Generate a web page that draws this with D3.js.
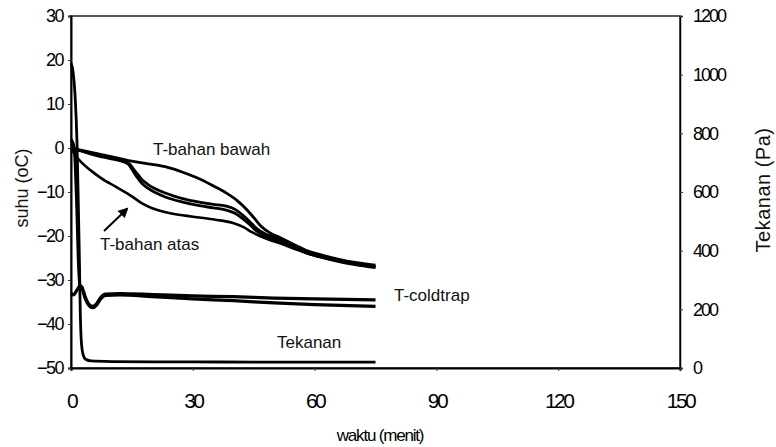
<!DOCTYPE html>
<html>
<head>
<meta charset="utf-8">
<script src="https://cdn.jsdelivr.net/npm/d3@7"></script>
<style>
  body { margin: 0; background: #fff; }
  svg { display: block; font-family: "Liberation Sans", Arial, sans-serif; }
</style>
</head>
<body>
<div id="container"></div>
<script>
// time ticks (menit) and axis ticks
const xTicks = [0, 30, 60, 90, 120, 150];
const yTicksLeft = [30, 20, 10, 0, -10, -20, -30, -40, -50];
const yTicksRight = [0, 200, 400, 600, 800, 1000, 1200];

// T-bahan bawah (top curve), [menit, oC]
const tBawah = [[0, 0], [3, -0.6], [7, -1.4], [11, -2.2], [15, -3.0], [19, -3.6], [23.4, -4.3],
  [27.5, -5.5], [31.6, -7.0], [35, -8.6], [38.2, -10.2], [41, -12], [43.2, -13.9], [45, -15.8],
  [46.8, -17.8], [49, -19.3], [51.3, -20.3], [55, -22], [58, -23.3], [62, -24.4], [66, -25.3],
  [70, -26.0], [75, -26.6]];

// middle pair
const tTengah1 = [[0, 0], [4, -1], [8, -1.9], [12, -2.7], [14, -3.3], [16, -5.5], [17.5, -7.2],
  [19, -8.3], [23.4, -10.3], [27.5, -11.5], [31.6, -12.3], [35, -12.8], [38.2, -13.2], [40.5, -14],
  [42.2, -15.2], [44, -16.7], [45.6, -18.2], [48, -19.6], [51.3, -20.6], [55, -22.1], [58, -23.5],
  [62, -24.6], [66, -25.5], [70, -26.2], [75, -26.9]];
const tTengah2 = [[0, 0], [4, -1.1], [8, -2.1], [12, -2.9], [14, -3.6], [16, -6.3], [17.5, -8.1],
  [19, -9.2], [23.4, -11.2], [27.5, -12.3], [31.6, -13.1], [35, -13.6], [38.2, -14.1], [40.5, -14.9],
  [42.2, -16], [44, -17.4], [45.6, -18.8], [48, -20.1], [51.3, -21.1], [55, -22.5], [58, -23.8],
  [62, -24.9], [66, -25.8], [70, -26.5], [75, -27.2]];

// T-bahan atas (lowest curve)
const tAtas = [[0, 0], [1.2, -1.8], [2.7, -3.4], [5, -5.2], [7.5, -6.9], [11, -8.8], [15, -11.0],
  [17.5, -12.6], [20, -13.7], [23.4, -14.6], [27.5, -15.3], [31.6, -15.8], [35.5, -16.3],
  [39.7, -17], [42.5, -18], [44.7, -19.2], [48, -20.6], [51.3, -21.6], [55, -22.9], [58, -23.9],
  [62, -24.9], [66, -25.7], [70, -26.4], [75, -27.0]];

// T-coldtrap (two traces)
const tCold1 = [[0, 2], [0.8, 0], [1.4, -12], [1.9, -27], [2.2, -31.2], [2.7, -31.6], [3.5, -33.8],
  [4.5, -35.6], [5.3, -36.0], [6.3, -35.4], [7.3, -34], [8.5, -33.2], [12, -33.1], [20, -33.3],
  [30, -33.6], [40, -33.8], [50, -34.1], [60, -34.3], [75, -34.5]];
const tCold2 = [[0, -33], [0.6, -33.4], [1.4, -32.4], [2.2, -31.4], [2.7, -31.9], [3.5, -34.2],
  [4.5, -35.9], [5.3, -36.3], [6.3, -35.7], [7.3, -34.3], [8.5, -33.5], [12, -33.4], [20, -33.8],
  [30, -34.3], [40, -34.7], [50, -35.2], [60, -35.6], [75, -36.0]];

// Tekanan (Pa)
const tekanan = [[0, 1040], [0.5, 1010], [1, 930], [1.5, 760], [2, 420], [2.3, 180], [2.6, 80],
  [3, 45], [3.6, 30], [5, 24], [10, 22], [20, 21], [30, 21], [45, 20], [60, 20], [75, 20]];

const svg = d3.select('#container')
  .append('svg')
  .attr('width', 776)
  .attr('height', 447);

const plot = { left: 71, right: 680, top: 16, bottom: 368 };

const x = d3.scaleLinear().domain([0, 150]).range([plot.left, plot.right]);
const yL = d3.scaleLinear().domain([-50, 30]).range([plot.bottom, plot.top]);
const yR = d3.scaleLinear().domain([0, 1200]).range([plot.bottom, plot.top]);

// frame
svg.append('rect')
  .attr('x', plot.left)
  .attr('y', plot.top)
  .attr('width', plot.right - plot.left)
  .attr('height', plot.bottom - plot.top)
  .attr('fill', 'none')
  .attr('stroke', '#222')
  .attr('stroke-width', 1.5);

// axes
const tickFont = g => g.selectAll('text')
  .attr('font-family', '"Liberation Sans", Arial, sans-serif')
  .attr('fill', '#000');

const xAxis = svg.append('g')
  .attr('transform', `translate(0,${plot.bottom})`)
  .call(d3.axisBottom(x).tickValues(xTicks).tickSize(3).tickPadding(22))
  .call(g => g.select('.domain').attr('stroke-width', 2))
  .call(tickFont);
xAxis.selectAll('text').attr('font-size', 21).attr('letter-spacing', -2.5);

const yAxisL = svg.append('g')
  .attr('transform', `translate(${plot.left},0)`)
  .call(d3.axisLeft(yL).tickValues(yTicksLeft).tickSize(3).tickPadding(5))
  .call(g => g.select('.domain').attr('stroke-width', 2))
  .call(tickFont);
yAxisL.selectAll('text').attr('font-size', 18).attr('letter-spacing', -1.5);

const yAxisR = svg.append('g')
  .attr('transform', `translate(${plot.right},0)`)
  .call(d3.axisRight(yR).tickValues(yTicksRight).tickFormat(d3.format('d')).tickSize(3).tickPadding(10))
  .call(g => g.select('.domain').attr('stroke-width', 1.5))
  .call(tickFont);
yAxisR.selectAll('text').attr('font-size', 18).attr('letter-spacing', -2);

svg.selectAll('.tick line').attr('stroke', '#333');

// axis titles
svg.append('text')
  .attr('x', 380)
  .attr('y', 441)
  .attr('text-anchor', 'middle')
  .attr('font-size', 17)
  .attr('letter-spacing', -1.2)
  .text('waktu (menit)');

svg.append('text')
  .attr('transform', 'translate(28,188) rotate(-90)')
  .attr('text-anchor', 'middle')
  .attr('font-size', 18)
  .attr('fill', '#111')
  .text('suhu (oC)');

svg.append('text')
  .attr('transform', 'translate(770,190) rotate(-90)')
  .attr('text-anchor', 'middle')
  .attr('font-size', 20)
  .attr('letter-spacing', 0.5)
  .attr('fill', '#111')
  .text('Tekanan (Pa)');

// lines
const lineL = d3.line().x(d => x(d[0])).y(d => yL(d[1])).curve(d3.curveMonotoneX);
const lineR = d3.line().x(d => x(d[0])).y(d => yR(d[1])).curve(d3.curveMonotoneX);

const tempSeries = [
  { data: tBawah, w: 2.8 },
  { data: tTengah1, w: 2.8 },
  { data: tTengah2, w: 2.8 },
  { data: tAtas, w: 2.6 },
  { data: tCold1, w: 3.2 },
  { data: tCold2, w: 3.2 }
];

svg.append('g')
  .selectAll('path')
  .data(tempSeries)
  .join('path')
  .attr('d', d => lineL(d.data))
  .attr('fill', 'none')
  .attr('stroke', '#000')
  .attr('stroke-width', d => d.w)
  .attr('stroke-linejoin', 'round');

svg.append('path')
  .attr('d', lineR(tekanan))
  .attr('fill', 'none')
  .attr('stroke', '#000')
  .attr('stroke-width', 2.8);

// labels
const labels = [
  { text: 'T-bahan bawah', x: 153, y: 155 },
  { text: 'T-bahan atas', x: 100, y: 250 },
  { text: 'T-coldtrap', x: 394, y: 301 },
  { text: 'Tekanan', x: 277, y: 348 }
];

svg.append('g')
  .selectAll('text')
  .data(labels)
  .join('text')
  .attr('x', d => d.x)
  .attr('y', d => d.y)
  .attr('font-size', 17)
  .attr('fill', '#111')
  .text(d => d.text);

// arrow to T-bahan atas
svg.append('defs')
  .append('marker')
  .attr('id', 'head')
  .attr('viewBox', '0 0 10 10')
  .attr('refX', 8)
  .attr('refY', 5)
  .attr('markerWidth', 5)
  .attr('markerHeight', 5)
  .attr('orient', 'auto')
  .append('path')
  .attr('d', 'M0,0L10,5L0,10z')
  .attr('fill', '#000');

svg.append('line')
  .attr('x1', 104)
  .attr('y1', 231)
  .attr('x2', 127)
  .attr('y2', 209)
  .attr('stroke', '#000')
  .attr('stroke-width', 2)
  .attr('marker-end', 'url(#head)');
</script>
</body>
</html>
